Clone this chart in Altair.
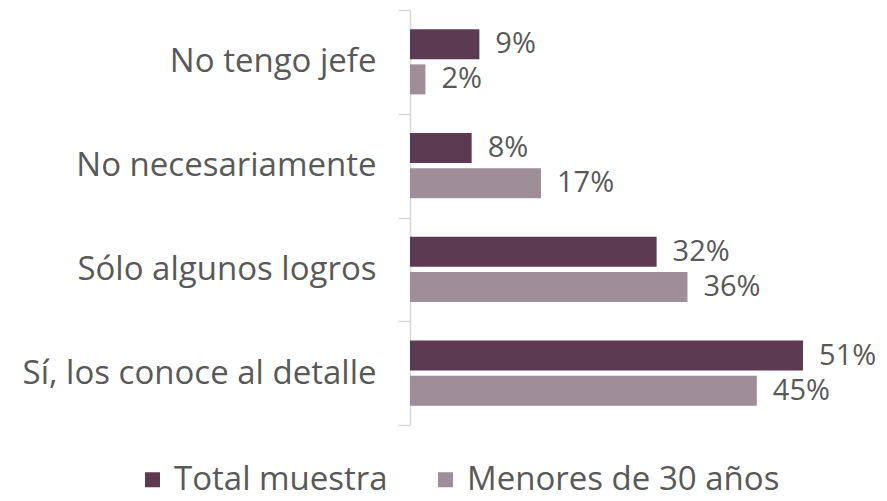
import altair as alt
import pandas as pd

categories = ["No tengo jefe", "No necesariamente", "Sólo algunos logros", "Sí, los conoce al detalle"]
series = ["Total muestra", "Menores de 30 años"]
total = [9, 8, 32, 51]
menores = [2, 17, 36, 45]
colors = ["#5C3A51", "#9E8E97"]

rows = []
for c, t, m in zip(categories, total, menores):
    rows.append({"cat": c, "serie": series[0], "v": t, "lab": f"{t}%"})
    rows.append({"cat": c, "serie": series[1], "v": m, "lab": f"{m}%"})
df = pd.DataFrame(rows)

FONT = "Open Sans"
TXT = "#595959"

y = alt.Y("cat:N", sort=categories, title=None,
          scale=alt.Scale(paddingInner=0, paddingOuter=0),
          axis=alt.Axis(tickBand="extent", tickSize=12, tickColor="#D9D9D9",
                        domainColor="#D9D9D9", domainWidth=1.5, tickWidth=1.5,
                        labelPadding=22, labelFontSize=33, labelColor=TXT,
                        labelFont=FONT, labelLimit=600))
yoff = alt.YOffset("serie:N", sort=series,
                   scale=alt.Scale(paddingInner=0.143, paddingOuter=0.553))
x = alt.X("v:Q", scale=alt.Scale(domain=[0, 58]), axis=None)

bars = alt.Chart(df).mark_bar().encode(
    x=x, y=y, yOffset=yoff,
    color=alt.Color("serie:N", sort=series,
                    scale=alt.Scale(domain=series, range=colors),
                    legend=alt.Legend(title=None, orient="none", direction="horizontal",
                                      legendX=-274, legendY=453,
                                      symbolType="square", symbolSize=225,
                                      symbolStrokeWidth=0, labelLimit=600,
                                      labelFontSize=33, labelColor=TXT, labelFont=FONT,
                                      columnPadding=41, labelOffset=5)),
)

labels = alt.Chart(df).mark_text(align="left", baseline="middle", dx=16,
                                 fontSize=29, color=TXT, font=FONT).encode(
    x=x, y=alt.Y("cat:N", sort=categories), yOffset=yoff, text="lab:N"
)

chart = (bars + labels).properties(
    width=447, height=415,
    autosize=alt.AutoSizeParams(type="none"),
    padding={"left": 402, "top": 2, "right": 22, "bottom": 76},
).configure_view(stroke=None)

chart.save("out.html", embed_options={"renderer": "svg", "actions": False})
